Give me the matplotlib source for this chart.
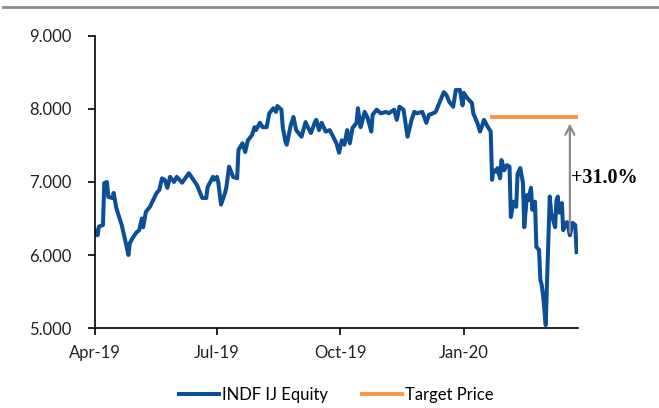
import matplotlib
matplotlib.use('agg')
import matplotlib.pyplot as plt
import matplotlib.dates as mdates
import matplotlib.ticker as mticker
import pandas as pd

# day offsets from 1 Apr 2019 and closing prices
day_offsets = [1, 2, 3, 6, 7, 9, 10, 13, 14, 16, 20, 22, 25, 26, 28, 31, 33, 35, 36, 38,
               41, 46, 48, 50, 52, 54, 56, 59, 61, 65, 70, 76, 78, 80, 83, 84, 88, 89, 91, 92,
               94, 97, 98, 100, 103, 106, 107, 110, 112, 114, 117, 119, 120, 123, 125, 128, 130, 133, 135, 136,
               139, 140, 142, 143, 146, 148, 150, 154, 157, 159, 161, 164, 165, 167, 169, 172, 175, 177, 180, 182,
               184, 186, 188, 190, 192, 195, 196, 198, 199, 201, 203, 206, 207, 210, 213, 217, 219, 223, 225, 227,
               230, 233, 236, 238, 240, 244, 247, 249, 252, 254, 256, 260, 262, 264, 267, 269, 272, 274, 275, 277,
               279, 281, 282, 285, 287, 288, 290, 292, 295, 296, 297, 299, 300, 302, 303, 305, 307, 309, 310, 312,
               314, 315, 317, 319, 320, 322, 323, 325, 326, 328, 329, 331, 332, 333, 334, 336, 337, 339, 340, 343,
               344, 345, 346, 348, 349, 351, 352, 354, 356, 358, 359]
prices = [6330, 6270, 6390, 6410, 6985, 7000, 6795, 6780, 6850, 6640, 6410, 6250, 6000, 6160, 6230, 6310, 6340, 6500, 6380, 6590,
          6660, 6850, 6890, 7050, 7030, 6920, 7070, 7000, 7070, 6990, 7120, 6960, 6870, 6780, 6780, 6930, 7070, 7030, 7070, 6990,
          6690, 6850, 6930, 7210, 7070, 7050, 7440, 7530, 7410, 7570, 7640, 7750, 7710, 7810, 7750, 7750, 7940, 8010, 7960, 8040,
          7990, 7750, 7550, 7510, 7780, 7890, 7710, 7620, 7820, 7740, 7670, 7820, 7850, 7710, 7810, 7690, 7710, 7640, 7530, 7400,
          7570, 7510, 7710, 7530, 7740, 7810, 8010, 7750, 7810, 7960, 7890, 7690, 7920, 7990, 7940, 7960, 7940, 7990, 7850, 8030,
          7990, 7620, 7850, 7960, 7940, 7960, 7810, 7920, 7940, 7960, 8050, 8230, 8190, 8100, 8030, 8260, 8260, 8050, 8220, 8160,
          8120, 8080, 7940, 7810, 7690, 7740, 7850, 7780, 7690, 7030, 7160, 7140, 7190, 7050, 7300, 7160, 7230, 7210, 6520, 6730,
          6660, 7110, 7190, 6990, 6380, 6820, 6750, 6920, 6620, 6730, 6110, 6070, 5660, 5590, 5450, 5040, 5660, 6800, 6580, 6380,
          6750, 6800, 6580, 6710, 6340, 6440, 6450, 6270, 6440, 6410, 6040]

target_price = 7890
target_start_day = 296
arrow_base_price = 6270
arrow_day = 354
upside_label = '+31.0%'

start = pd.Timestamp('2019-04-01')
dates = start + pd.to_timedelta(day_offsets, unit='D')

fig = plt.figure(figsize=(6.59, 4.08), dpi=100)
ax = fig.add_axes([0.144, 0.196, 0.733, 0.716])

ax.plot(dates, prices, color='#0b4f97', lw=2.9, label='INDF IJ Equity', solid_joinstyle='round')
ax.plot([start + pd.Timedelta(days=target_start_day), dates[-1] + pd.Timedelta(days=1)],
        [target_price, target_price], color='#f79646', lw=2.8, label='Target Price')

arrow_x = start + pd.Timedelta(days=arrow_day)
ax.annotate('', xy=(arrow_x, target_price - 50), xytext=(arrow_x, arrow_base_price),
            arrowprops=dict(arrowstyle='->', color='#8c8c8c', lw=1.6, mutation_scale=16))
ax.text(start + pd.Timedelta(days=355), 7050, upside_label, family='Liberation Serif',
        fontweight='bold', fontsize=14.5, va='center', ha='left')

ax.set_ylim(5000, 9000)
ax.set_xlim(start, start + pd.Timedelta(days=360))
ax.yaxis.set_major_locator(mticker.MultipleLocator(1000))
ax.yaxis.set_major_formatter(mticker.FuncFormatter(lambda v, p: f'{v:,.0f}'.replace(',', '.')))
ax.xaxis.set_major_locator(mdates.MonthLocator(bymonth=[1, 4, 7, 10]))
ax.xaxis.set_major_formatter(mdates.DateFormatter('%b-%y'))

for s in ['top', 'right']:
    ax.spines[s].set_visible(False)
for s in ['left', 'bottom']:
    ax.spines[s].set_linewidth(1.2)
ax.tick_params(axis='both', labelsize=12, length=5, width=1.2)
ax.tick_params(axis='y', pad=12)
ax.tick_params(axis='x', pad=7)
for lbl in ax.get_xticklabels() + ax.get_yticklabels():
    lbl.set_family('Lato')
    lbl.set_color('#222222')

leg = ax.legend(loc='upper center', bbox_to_anchor=(0.5, -0.15), ncol=2, frameon=False,
                prop={'family': 'Lato', 'size': 12}, handlelength=2.4, columnspacing=2.0,
                handletextpad=0.2)

# grey rule across the top of the picture
fig.add_artist(plt.Line2D([0.005, 1], [0.983, 0.983], color='#8a8a8a', lw=2))

fig.savefig('out.png', dpi=100)
